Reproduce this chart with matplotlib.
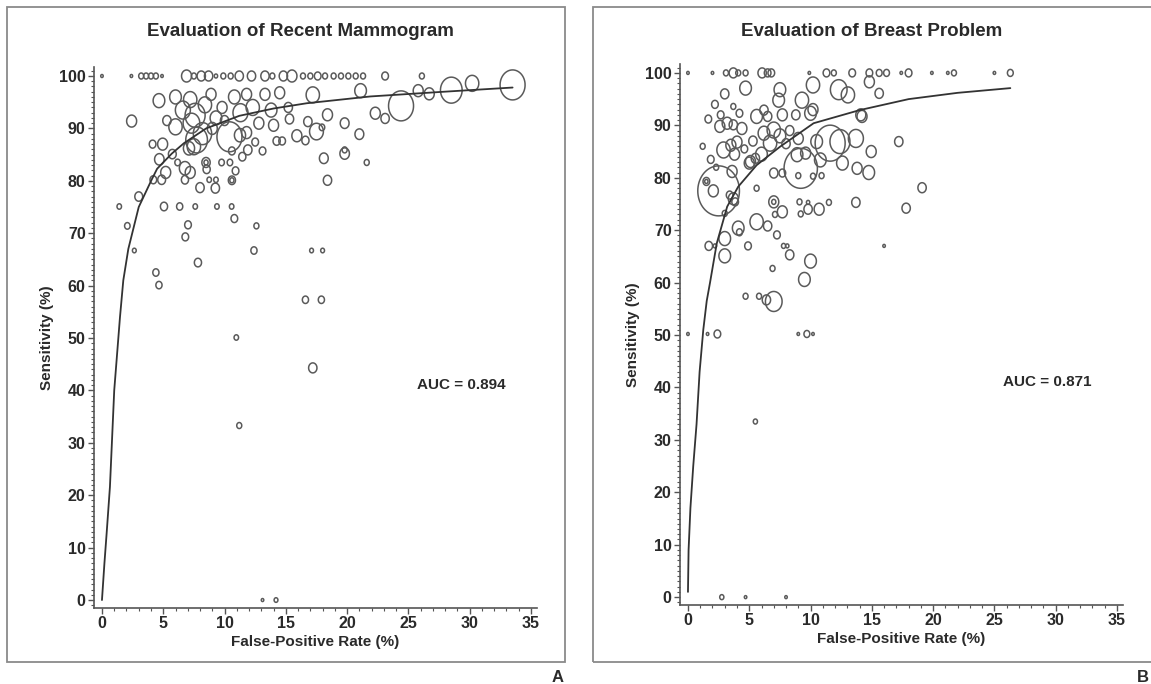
import numpy as np
import matplotlib
matplotlib.use("Agg")
import matplotlib.pyplot as plt
from matplotlib.path import Path
from matplotlib.patches import Rectangle
from matplotlib.ticker import MultipleLocator

# ---------------- data ----------------
titles = ["Evaluation of Recent Mammogram", "Evaluation of Breast Problem"]
auc_labels = ["AUC = 0.894", "AUC = 0.871"]
panel_letters = ["A", "B"]
x_label = "False-Positive Rate (%)"
y_label = "Sensitivity (%)"
x_ticks = [0, 5, 10, 15, 20, 25, 30, 35]
y_ticks = [0, 10, 20, 30, 40, 50, 60, 70, 80, 90, 100]

# Panel A studies: false-positive rate, sensitivity, study weight (bubble radius)
a_fpr = [0, 2.4, 3.2, 3.6, 4.0, 4.4, 4.9, 6.9, 7.5, 8.1, 8.7, 9.3, 9.9, 10.5, 11.2, 12.2, 13.3, 13.9, 14.8, 15.5,
         16.4, 17.0, 17.6, 18.2, 18.9, 19.5, 20.1, 20.7, 21.3, 23.1, 26.1,
         4.65, 6.0, 6.6, 7.2, 7.6, 8.4, 8.9, 9.3, 9.8, 10.8, 11.3, 11.8, 12.3, 12.8, 13.3, 13.8, 14.5, 15.2,
         6.0, 7.3, 8.2, 5.3, 9.0, 10.0, 10.4, 11.26, 11.8, 2.42,
         14.0, 15.3, 16.8, 17.5, 17.95, 18.4, 19.8, 21.0, 17.2, 21.1, 22.3, 23.1, 24.4, 25.8, 26.7, 28.5, 30.2, 33.5,
         7.72, 7.5, 7.1, 4.13, 4.95, 5.74, 4.68, 6.17, 6.77, 7.2, 6.77, 5.2, 4.87, 4.19, 8.49, 8.49, 8.54, 8.75, 9.3,
         9.76, 10.44, 10.9, 10.6, 10.6, 10.6, 11.45, 11.9, 12.5, 13.1, 14.25, 14.7, 15.9, 16.6, 18.1, 19.8, 19.8,
         21.6, 18.4,
         9.25, 8.0, 3.0, 1.41, 5.06, 6.34, 7.61, 9.38, 10.58, 2.07, 7.02, 6.8, 10.8, 12.6, 2.64, 12.4, 17.1, 18.0,
         7.83, 4.4, 4.65, 16.6, 17.9, 10.96, 17.2, 11.2, 13.1, 14.2]
a_sens = [100, 100, 100, 100, 100, 100, 100, 100, 100, 100, 100, 100, 100, 100, 100, 100, 100, 100, 100, 100,
          100, 100, 100, 100, 100, 100, 100, 100, 100, 100, 100,
          95.3, 96.0, 93.5, 95.5, 92.5, 94.5, 96.5, 92.0, 94.0, 96.0, 93.0, 96.5, 94.0, 91.0, 96.5, 93.5, 96.8, 94.0,
          90.3, 91.0, 89.0, 91.5, 90.0, 91.5, 88.4, 88.7, 89.2, 91.4,
          90.6, 91.8, 91.3, 89.4, 90.2, 92.6, 91.0, 88.9, 96.4, 97.2, 92.9, 91.9, 94.3, 97.2, 96.6, 97.3, 98.6, 98.3,
          87.8, 86.5, 86.2, 87.0, 87.0, 85.1, 84.1, 83.5, 82.4, 81.6, 80.2, 81.6, 80.2, 80.2, 83.5, 83.5, 82.2, 80.2,
          80.2, 83.5, 83.5, 81.9, 80.1, 80.1, 85.7, 84.6, 85.9, 87.4, 85.7, 87.6, 87.6, 88.6, 87.7, 84.3, 85.2, 85.9,
          83.5, 80.1,
          78.6, 78.7, 77.0, 75.1, 75.1, 75.1, 75.1, 75.1, 75.1, 71.4, 71.6, 69.3, 72.8, 71.4, 66.7, 66.7, 66.7, 66.7,
          64.4, 62.5, 60.1, 57.3, 57.3, 50.1, 44.3, 33.3, 0, 0]
a_weight = [1.5, 1.5, 3, 3, 3, 3, 1.5, 6, 3, 5, 5, 2, 3, 3, 5, 5, 5, 3, 5, 6,
            3, 3, 4, 3, 3, 3, 3, 3, 3, 4, 3,
            7, 7, 9, 8, 12, 8, 6, 7, 6, 7, 9, 6, 8, 6, 6, 7, 6, 5,
            8, 10, 11, 5, 6, 5, 15, 6.7, 6, 6,
            6, 5, 5, 8.3, 3.3, 6, 5.3, 5.3, 8, 7, 6, 5, 15, 6, 6, 13, 8, 15,
            13, 8, 6.7, 4, 6, 4.7, 5.7, 3.3, 6.7, 6, 4.3, 6, 4.7, 4, 5, 2.5, 4.3, 2.7,
            2.7, 3.3, 3.3, 4, 4.3, 2.5, 4, 4.3, 5, 4, 4, 4.3, 4, 6, 4.3, 5.3, 5.7, 3,
            3, 5,
            5, 5, 4.7, 2.7, 4.3, 3.7, 2.7, 2.7, 2.7, 3.3, 4, 4, 4, 3, 2.3, 3.7, 2.3, 2.3,
            4.3, 3.7, 3.7, 3.7, 3.7, 2.7, 5, 3, 1.5, 2.3]

# Panel A summary ROC curve
a_curve_fpr = [0, 0.2, 0.38, 0.65, 1.0, 1.47, 1.74, 2.15, 3.0, 4.05, 4.5, 5.7, 6.7, 8.5, 11.2, 14.0, 16.7, 21.9, 27.9, 33.5]
a_curve_sens = [0, 7, 12.7, 21.6, 40, 54, 61, 67, 75, 80.2, 82.3, 85.2, 87.2, 90.0, 92.4, 93.8, 94.8, 96.1, 97.0, 97.8]

# Panel B studies
b_fpr = [0, 2.0, 3.1, 3.7, 4.1, 4.7, 6.05, 6.5, 6.8, 9.9, 11.3, 11.9, 13.4, 14.8, 15.6, 16.2, 17.4, 18.0, 19.9,
         21.2, 21.7, 25.0, 26.3,
         1.66, 2.67, 2.6, 3.2, 3.7, 4.4, 1.86, 2.9, 3.5, 4.0, 3.8, 3.6, 1.5, 1.5, 2.07, 2.5, 3.4, 3.85, 3.0,
         5.1, 5.5, 6.0, 6.7, 7.0, 6.2, 7.5, 5.6, 6.5, 7.7, 8.8, 10.0, 14.2, 13.7, 12.4, 11.6, 10.5, 9.2, 8.9,
         9.6, 10.8, 12.6, 13.8, 14.75, 14.95, 17.2, 7.0, 7.7, 5.6, 9.0, 10.2, 10.9, 5.0, 4.7, 7.5, 10.2, 12.3,
         14.8, 15.6, 3.7, 6.2, 7.4, 9.3, 10.2, 13.05, 14.1, 3.0, 2.2, 4.2, 8.3, 9.0, 8.0, 4.6, 5.3, 2.3, 1.2,
         13.7, 11.5, 10.7, 9.8, 9.8, 9.2, 9.1, 7.7, 7.0, 7.0, 7.1, 5.6, 6.5, 7.26, 4.1, 4.2, 3.0, 3.0, 1.7, 2.2,
         4.9, 7.8, 8.1, 8.3, 10.0, 9.5, 6.9, 4.7, 5.8, 6.4, 7.0, 16.0, 19.1, 17.8, 3.7,
         0, 1.6, 2.4, 9.0, 9.7, 10.2, 5.5, 2.76, 4.7, 8.0]
b_sens = [100, 100, 100, 100, 100, 100, 100, 100, 100, 100, 100, 100, 100, 100, 100, 100, 100, 100, 100,
          100, 100, 100, 100,
          91.2, 92.0, 89.8, 90.4, 90.1, 89.4, 83.5, 85.3, 86.2, 86.8, 84.5, 81.2, 79.3, 79.3, 77.5, 77.5, 76.7, 75.4, 73.2,
          83.1, 83.7, 84.5, 86.6, 89.1, 88.5, 88.0, 91.7, 91.7, 92.0, 92.0, 92.3, 91.7, 87.5, 86.9, 86.6, 86.9, 81.8, 84.4,
          84.7, 83.4, 82.8, 81.8, 81.0, 85.0, 86.9, 80.9, 80.9, 78.0, 80.4, 80.3, 80.4, 82.8, 97.1, 96.8, 97.7, 96.8,
          98.3, 96.1, 93.6, 92.9, 94.8, 94.8, 93.0, 95.8, 92.0, 96.0, 94.0, 92.3, 89.0, 87.5, 86.5, 85.5, 87.0, 82.0, 86.0,
          75.3, 75.3, 74.0, 74.0, 75.3, 73.1, 75.4, 73.5, 75.4, 75.4, 73.0, 71.6, 70.8, 69.1, 70.4, 69.6, 68.4, 65.1, 67.0, 67.0,
          67.0, 67.0, 67.0, 65.3, 64.1, 60.6, 62.7, 57.4, 57.4, 56.7, 56.4, 67.0, 78.1, 74.2, 76.0,
          50.2, 50.2, 50.2, 50.2, 50.2, 50.2, 33.5, 0, 0, 0]
b_weight = [1.5, 1.5, 3, 5, 3, 3, 5, 4, 4, 1.5, 4, 3, 4, 4, 3.5, 3.5, 1.5, 4, 1.5,
            1.5, 3, 1.5, 3.5,
            4, 4, 6, 6, 5, 6, 4, 8, 6, 6, 6, 6, 4, 2, 6, 25, 4, 4, 3,
            6, 5, 7, 8, 8, 7, 7, 7, 5, 6, 5, 7, 6, 9, 12, 18, 7, 20, 7,
            6, 7, 7, 6, 7, 6, 5, 5, 4, 3, 3, 3, 3, 6, 7, 7, 8, 10,
            6, 5, 3, 5, 7, 8, 6, 8, 6, 5, 4, 4, 5, 6, 5, 4, 5, 3, 3,
            5, 3, 6, 5, 2, 3, 3, 6, 6, 2.5, 3, 8, 5, 4, 7, 3.5, 7, 7, 4.5, 2,
            4, 2.5, 2, 5, 7, 7, 3, 3, 3, 5, 10, 1.5, 5, 5, 6,
            1.5, 1.5, 4, 1.5, 3.5, 1.5, 2.5, 2.5, 1.5, 1.5]

# Panel B summary ROC curve
b_curve_fpr = [0, 0.05, 0.2, 0.43, 0.7, 0.95, 1.25, 1.53, 1.8, 2.35, 3.2, 4.1, 5.6, 7.5, 10.25, 14.0, 18.0, 22.0, 26.3]
b_curve_sens = [1, 9, 17, 25, 33, 43, 51, 56.5, 60, 67.5, 74.5, 78.3, 82.4, 85.9, 90.4, 92.9, 95.0, 96.2, 97.1]

# ---------------- style ----------------
W, H = 1151, 684
FONT = ["Liberation Sans", "DejaVu Sans"]
TXT = "#2a2a2a"
EDGE = "#5a5a5a"
ASPECT = 1.2  # bubbles are slightly taller than wide in the original

theta = np.linspace(0, 2 * np.pi, 73)
ellipse = Path(np.column_stack([np.cos(theta) / ASPECT, np.sin(theta)]))

fig = plt.figure(figsize=(W / 100, H / 100), dpi=100)

# panel frames
fig.add_artist(Rectangle((7 / W, 1 - 662 / H), (565 - 7) / W, (662 - 7) / H,
                         transform=fig.transFigure, fill=False, ec="#8a8a8a", lw=1.3))
fig.add_artist(Rectangle((593 / W, 1 - 662 / H), (1170 - 593) / W, (662 - 7) / H,
                         transform=fig.transFigure, fill=False, ec="#8a8a8a", lw=1.3))

axA = fig.add_axes([94 / W, 1 - 607.9 / H, 443.1 / W, (607.9 - 67.1) / H])
axB = fig.add_axes([680 / W, 1 - 605 / H, 443.1 / W, (605 - 64) / H])

panels = [
    (axA, a_fpr, a_sens, a_weight, a_curve_fpr, a_curve_sens),
    (axB, b_fpr, b_sens, b_weight, b_curve_fpr, b_curve_sens),
]

for i, (ax, fx, sy, wt, cx, cy) in enumerate(panels):
    sizes = (1.44 * np.asarray(wt)) ** 2
    ax.scatter(fx, sy, s=sizes, marker=ellipse, facecolors="none",
               edgecolors=EDGE, linewidths=1.1, clip_on=False, zorder=2)
    ax.plot(cx, cy, color="#333333", lw=1.3, zorder=3, solid_capstyle="round")
    ax.set_xlim(-0.65, 35.5)
    ax.set_ylim(-1.5, 101.7)
    for sp in ["top", "right"]:
        ax.spines[sp].set_visible(False)
    for sp in ["left", "bottom"]:
        ax.spines[sp].set_color("#555555")
        ax.spines[sp].set_linewidth(1.2)
    ax.set_xticks(x_ticks)
    ax.set_yticks(y_ticks)
    ax.xaxis.set_minor_locator(MultipleLocator(1))
    ax.yaxis.set_minor_locator(MultipleLocator(1))
    ax.tick_params(which="major", length=4.5, width=1.0, color="#555555", direction="out",
                   labelsize=11.5, labelcolor=TXT, pad=1.5)
    ax.tick_params(which="minor", length=2.2, width=0.8, color="#555555", direction="out")
    for lab in ax.get_xticklabels() + ax.get_yticklabels():
        lab.set_fontweight("bold")
        lab.set_family(FONT)
    ax.set_xlabel(x_label, fontsize=11, fontweight="bold", color=TXT, family=FONT)
    ax.set_ylabel(y_label, fontsize=11, fontweight="bold", color=TXT, family=FONT)
    ax.xaxis.set_label_coords(0.5, -0.05)
    ax.yaxis.set_label_coords(-0.09, 0.5)
    ax.text(29.3, 41.0, auc_labels[i], ha="center", va="center", fontsize=11,
            fontweight="bold", color=TXT, family=FONT)
    ax.patch.set_alpha(0)

fig.text(300 / W, 1 - 32 / H, titles[0], ha="center", va="center", fontsize=13.5,
         fontweight="bold", color=TXT, family=FONT)
fig.text(872 / W, 1 - 32 / H, titles[1], ha="center", va="center", fontsize=13.5,
         fontweight="bold", color=TXT, family=FONT)
fig.text(558 / W, 1 - 677 / H, panel_letters[0], ha="center", va="center", fontsize=12,
         fontweight="bold", color=TXT, family=FONT)
fig.text(1143 / W, 1 - 677 / H, panel_letters[1], ha="center", va="center", fontsize=12,
         fontweight="bold", color=TXT, family=FONT)

fig.savefig("out.png", dpi=100, facecolor="white")
